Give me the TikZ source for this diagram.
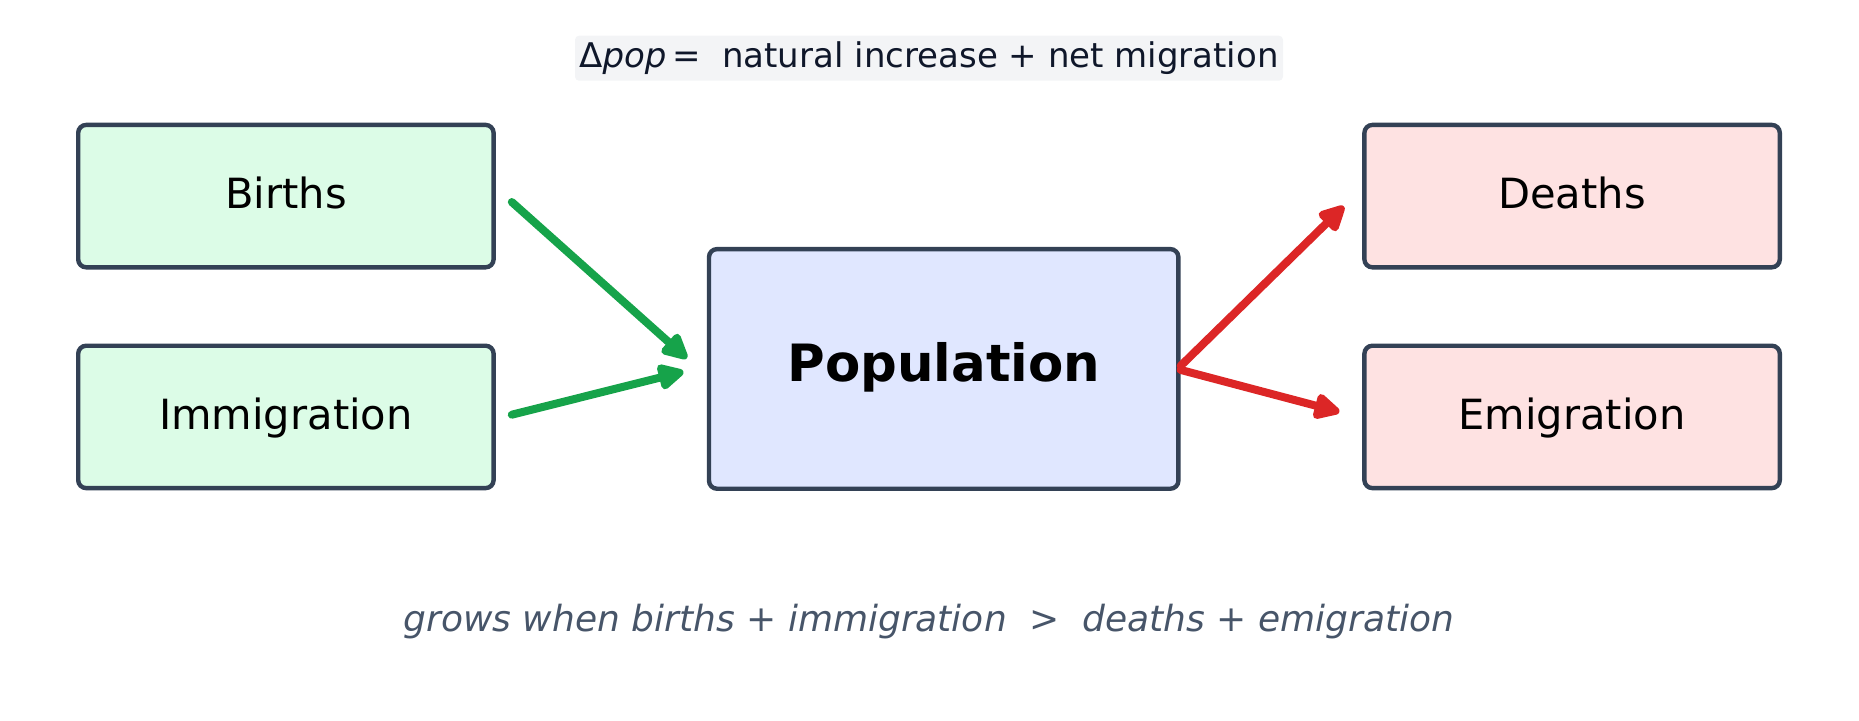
\documentclass[tikz,border=0pt]{standalone}
\usepackage{fontspec}
\setmainfont{DejaVu Sans}
\usetikzlibrary{calc}
\usetikzlibrary{positioning}
\usetikzlibrary{arrows.meta}

\definecolor{edgegray}{HTML}{334155}
\definecolor{infill}{HTML}{DCFCE7}
\definecolor{outfill}{HTML}{FEE2E2}
\definecolor{popfill}{HTML}{E0E7FF}
\definecolor{gain}{HTML}{16A34A}
\definecolor{loss}{HTML}{DC2626}
\definecolor{titlebg}{HTML}{F3F4F6}
\definecolor{titletext}{HTML}{0F172A}
\definecolor{notetext}{HTML}{475569}

\begin{document}
\begin{tikzpicture}
\fontsize{20.8pt}{25pt}\selectfont

\tikzset{box/.style={draw=edgegray, line width=2.2pt, rounded corners=4pt, align=center, text height=0.75em, text depth=0.15em, minimum width=207.7pt, minimum height=71.2pt},
	inflow/.style={box, fill=infill},
	outflow/.style={box, fill=outfill},
	flow/.style={line width=4pt, line cap=round, -{Triangle[length=15pt, width=14pt, round]}}}

\useasboundingbox (0,0) rectangle (929.5pt,-360pt);

\node[box, fill=popfill, minimum width=234.7pt, minimum height=119.8pt, font=\fontsize{25.7pt}{30pt}\selectfont\bfseries] (population) at (471.85pt,-184.45pt) {Population};

\node[inflow, above left=-11.3pt and 105.5pt of population] (births) {Births};
\node[inflow, below=37pt of births] (immigration) {Immigration};
\node[outflow, above right=-11.3pt and 90.8pt of population] (deaths) {Deaths};
\node[outflow, below=37pt of deaths] (emigration) {Emigration};

\node[fill=titlebg, rounded corners=2pt, inner sep=0pt, minimum width=354pt, minimum height=22.5pt, text=titletext, font=\fontsize{17pt}{20pt}\selectfont] (balance) at (464.5pt,-29.1pt) {Δ\textit{pop}\,=\ \ natural increase + net migration};
\node[text=notetext, font=\fontsize{18pt}{22pt}\selectfont\itshape] (note) at (464.5pt,-311pt) {grows when births + immigration\ \ >\ \ deaths + emigration};

\draw[flow, draw=gain] ($(births.east)+(8pt,-2.95pt)$) -- ($(population.west)+(-10pt,5.3pt)$);
\draw[flow, draw=gain] ($(immigration.east)+(8pt,1.1pt)$) -- ($(population.west)+(-11.7pt,-1.4pt)$);
\draw[flow, draw=loss] ($(population.east)+(0,1.5pt)$) -- ($(deaths.west)+(-9.2pt,-5.1pt)$);
\draw[flow, draw=loss] ($(population.east)+(0,-0.5pt)$) -- ($(emigration.west)+(-11.4pt,2.5pt)$);
\end{tikzpicture}
\end{document}
